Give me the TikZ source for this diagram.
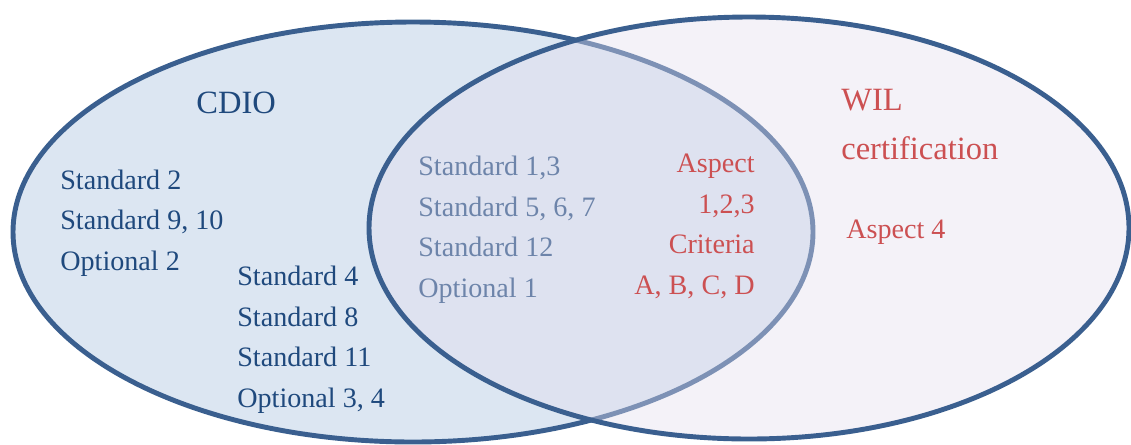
\documentclass[tikz,border=0pt]{standalone}
\usepackage{fontspec}
\setmainfont{Liberation Serif}
\usetikzlibrary{positioning}

\definecolor{setline}{RGB}{58,95,143}
\definecolor{cdiofill}{RGB}{220,230,242}
\definecolor{wilfill}{RGB}{227,222,238}
\definecolor{cdiotext}{RGB}{31,73,125}
\definecolor{wiltext}{RGB}{204,80,82}

\begin{document}
\begin{tikzpicture}[x=0.02cm, y=-0.02cm]
        \tikzstyle{set} = [draw=setline, line width=2.8pt]
        \tikzstyle{title} = [inner sep=0pt, anchor=base west, align=left, font=\fontsize{18.5}{27.8}\selectfont]
        \tikzstyle{list} = [inner sep=0pt, anchor=base west, align=left, font=\fontsize{16}{23}\selectfont]

        \useasboundingbox (0,0) rectangle (1131,444);

        % CDIO set (base is the last line)
        \draw [set, fill=cdiofill] (413,232) ellipse [x radius=400, y radius=210];

        \node (cdio) [title, text=cdiotext] at (196,113) {CDIO};
        \node (cdioa) [list, text=cdiotext] at (60,270) {Standard 2\\Standard 9, 10\\Optional 2};
        \node (cdiob) [list, text=cdiotext] at (237,407) {Standard 4\\Standard 8\\Standard 11\\Optional 3, 4};
        \node (shared) [list, text=cdiotext] at (418,297) {Standard 1,3\\Standard 5, 6, 7\\Standard 12\\Optional 1};

        % WIL set
        \draw [set, fill=wilfill, fill opacity=0.4] (749,228) ellipse [x radius=380, y radius=211];

        \node (wil) [title, text=wiltext] at (841,159) {WIL\\certification};
        \node (aspects) [list, align=right, anchor=base east, text=wiltext] at (755,294) {Aspect\\1,2,3\\Criteria\\A, B, C, D};
        \node (aspectfour) [list, text=wiltext] at (846,238) {Aspect 4};
\end{tikzpicture}
\end{document}
